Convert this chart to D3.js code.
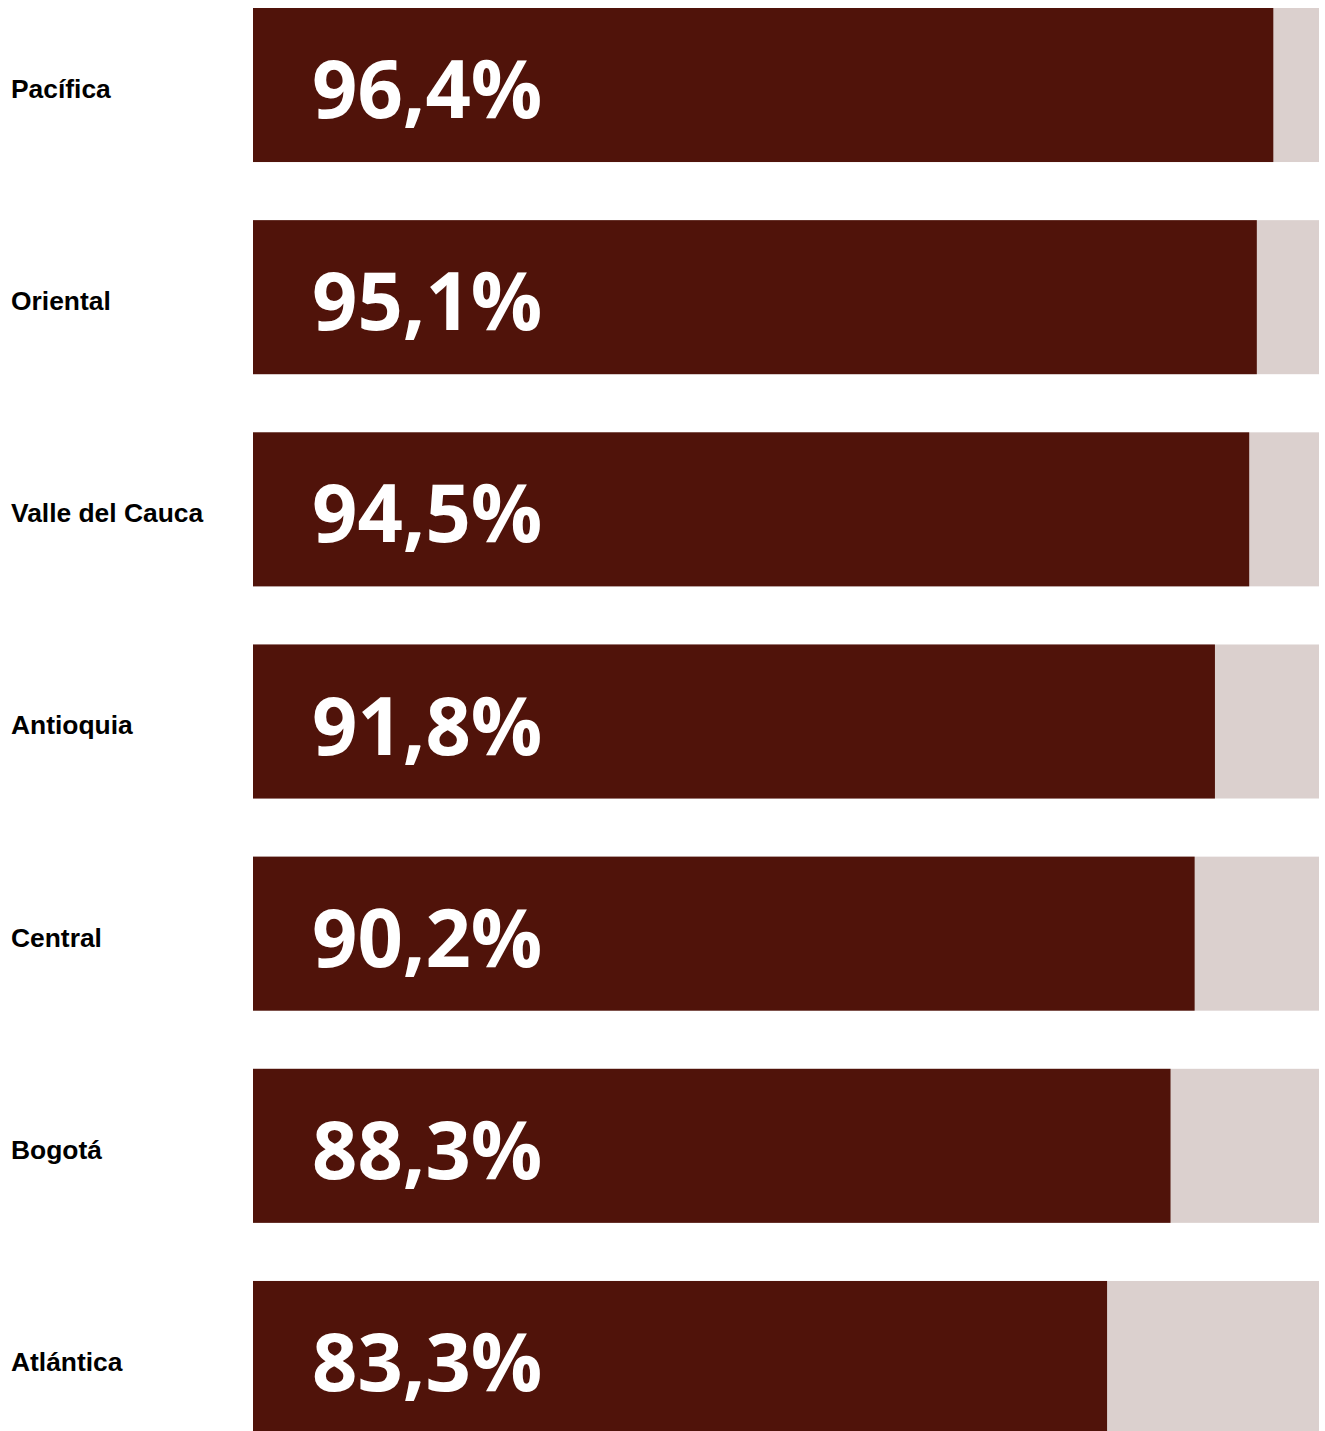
<!DOCTYPE html>
<html>
<head>
<meta charset="utf-8">
<script src="https://cdn.jsdelivr.net/npm/d3@7"></script>
<style>
  html, body { margin: 0; padding: 0; background: #ffffff; }
  svg { display: block; }
</style>
</head>
<body>
<svg id="chart" width="1325" height="1431"></svg>
<script>
// Share of households by region (percent)
const regions = ["Pacífica", "Oriental", "Valle del Cauca", "Antioquia", "Central", "Bogotá", "Atlántica"];
const values = [96.4, 95.1, 94.5, 91.8, 90.2, 88.3, 83.3];

const width = 1325, height = 1431;
const plotLeft = 253, plotRight = 1319;

const svg = d3.select("#chart");

// Comma decimal separator for the labels
const locale = d3.formatLocale({ decimal: ",", thousands: ".", grouping: [3], currency: ["", ""] });
const fmt = locale.format(".1f");

const y = d3.scaleBand()
  .domain(regions)
  .range([8, 1435])
  .paddingInner(0.274)
  .paddingOuter(0);

// Visible part of the percentage axis
const x = d3.scaleLinear()
  .domain([16, 100])
  .range([plotLeft, plotRight]);

const rows = svg.selectAll("g.row")
  .data(regions.map((r, i) => ({ region: r, value: values[i] })))
  .join("g")
  .attr("class", "row")
  .attr("transform", d => `translate(0,${y(d.region)})`);

// Track (remainder up to 100%)
rows.append("rect")
  .attr("x", x(16))
  .attr("y", 0)
  .attr("width", x(100) - x(16))
  .attr("height", y.bandwidth())
  .attr("fill", "#dbd0ce");

// Value bar
rows.append("rect")
  .attr("x", x(16))
  .attr("y", 0)
  .attr("width", d => x(d.value) - x(16))
  .attr("height", y.bandwidth())
  .attr("fill", "#50130a");

// Region names
rows.append("text")
  .attr("x", 11)
  .attr("y", y.bandwidth() / 2 + 13)
  .attr("font-family", "'Liberation Sans', Arial, sans-serif")
  .attr("font-weight", 700)
  .attr("font-size", 26.4)
  .attr("fill", "#000000")
  .text(d => d.region);

// Value labels inside the bars
rows.append("text")
  .attr("transform", `translate(312,${y.bandwidth() / 2 + 33}) scale(0.98,1)`)
  .attr("font-family", "'Open Sans', sans-serif")
  .attr("font-weight", 700)
  .attr("font-size", 81)
  .attr("fill", "#ffffff")
  .text(d => fmt(d.value) + "%");
</script>
</body>
</html>
